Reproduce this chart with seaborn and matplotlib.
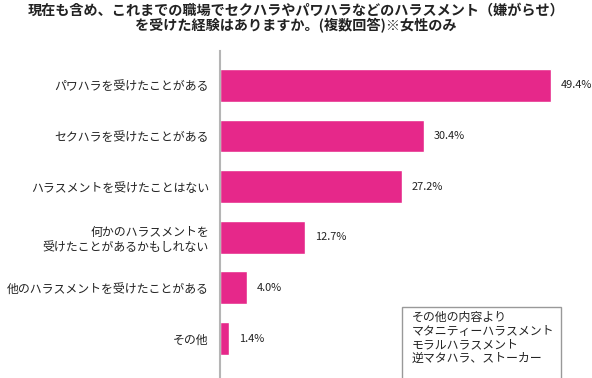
import matplotlib
matplotlib.use("Agg")
import matplotlib.pyplot as plt
import seaborn as sns
import pandas as pd
from matplotlib.patches import Rectangle

categories = [
    "パワハラを受けたことがある",
    "セクハラを受けたことがある",
    "ハラスメントを受けたことはない",
    "何かのハラスメントを\n受けたことがあるかもしれない",
    "他のハラスメントを受けたことがある",
    "その他",
]
values = [49.4, 30.4, 27.2, 12.7, 4.0, 1.4]
value_labels = ["49.4%", "30.4%", "27.2%", "12.7%", "4.0%", "1.4%"]
title_text = "現在も含め、これまでの職場でセクハラやパワハラなどのハラスメント（嫌がらせ）\nを受けた経験はありますか。(複数回答)※女性のみ"
note_lines = ["その他の内容より", "マタニティーハラスメント", "モラルハラスメント", "逆マタハラ、ストーカー"]

sns.set_theme(style="white")
plt.rcParams['font.family'] = ['Noto Sans CJK JP', 'DejaVu Sans']

W, H = 592, 378
fig = plt.figure(figsize=(W / 100, H / 100), dpi=100)
ax = fig.add_axes([220 / W, 1 - 377 / H, 372 / W, (377 - 51) / H])

df = pd.DataFrame({"cat": categories, "val": values})
sns.barplot(data=df, x="val", y="cat", orient="h", color="#E6288A",
            saturation=1, width=0.65, ax=ax)
ax.set_xlim(0, 55.5)
ax.set_ylim(5.76, -0.68)

for sp in ["top", "right", "bottom"]:
    ax.spines[sp].set_visible(False)
ax.spines["left"].set_color("#b5b5b5")
ax.spines["left"].set_linewidth(1.5)
ax.set_xticks([])
ax.set_xlabel("")
ax.set_ylabel("")
ax.tick_params(axis="y", length=0, pad=8, labelsize=8.6, labelcolor="#222222")

for container in ax.containers:
    ax.bar_label(container, labels=value_labels, padding=7, fontsize=7.9, color="#222222")

fig.text(296 / W, 1 - 18 / H, title_text, ha="center", va="center",
         fontsize=10.2, fontweight="bold", color="#222222", linespacing=1.05)

fig.patches.append(Rectangle((402 / W, 1 - 382 / H), 159 / W, 75 / H,
                             transform=fig.transFigure, fill=False,
                             edgecolor="#999999", linewidth=1.0))
fig.text(412 / W, 1 - 311 / H, "\n".join(note_lines), ha="left", va="top",
         fontsize=8.6, color="#222222", linespacing=1.05)

fig.savefig("out.png", dpi=100)
